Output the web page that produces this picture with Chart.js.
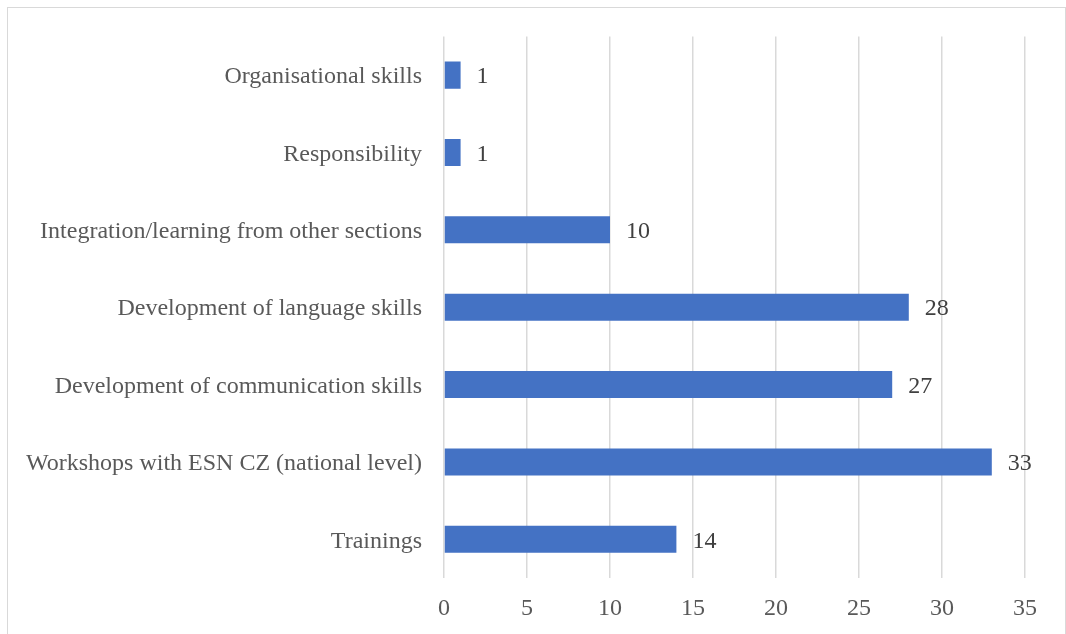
<!DOCTYPE html>
<html>
<head>
<meta charset="utf-8">
<script src="https://cdn.jsdelivr.net/npm/chart.js@4/dist/chart.umd.min.js"></script>
<style>
  body { margin: 0; background: #fff; }
  #wrap { position: relative; width: 1066px; height: 634px; }
  #frame { position: absolute; left: 7px; top: 7px; width: 1059px; height: 640px; border: 1.5px solid #d9d9d9; box-sizing: border-box; }
  canvas { position: absolute; left: 0; top: 0; }
</style>
</head>
<body>
<div id="wrap">
  <div id="frame"></div>
  <canvas id="myChart" width="1066" height="634"></canvas>
</div>
<script>
var categories = [
  "Organisational skills",
  "Responsibility",
  "Integration/learning from other sections",
  "Development of language skills",
  "Development of communication skills",
  "Workshops with ESN CZ (national level)",
  "Trainings"
];
var counts = [1, 1, 10, 28, 27, 33, 14];
var tickStep = 5;
var axisMax = 35;

const fontFamily = "'Liberation Serif', 'Times New Roman', serif";

// numbers to the right of each bar
const valueLabels = {
  id: "valueLabels",
  afterDatasetsDraw(chart) {
    const ctx = chart.ctx;
    const meta = chart.getDatasetMeta(0);
    ctx.save();
    ctx.font = "24px " + fontFamily;
    ctx.fillStyle = "#404040";
    ctx.textAlign = "left";
    ctx.textBaseline = "middle";
    meta.data.forEach(function (bar, i) {
      ctx.fillText(String(counts[i]), bar.x + 16, bar.y + 2);
    });
    ctx.restore();
  }
};

const config = {
  type: "bar",
  data: {
    labels: categories,
    datasets: [
      {
        data: counts,
        backgroundColor: "#4472c4",
        borderWidth: 0,
        barPercentage: 0.35,
        categoryPercentage: 1
      }
    ]
  },
  options: {
    indexAxis: "y",
    responsive: false,
    animation: false,
    layout: { padding: { top: 36, right: 41, left: 0, bottom: 0 } },
    plugins: {
      legend: { display: false },
      tooltip: { enabled: false }
    },
    scales: {
      x: {
        min: 0,
        max: axisMax,
        ticks: {
          stepSize: tickStep,
          padding: 16,
          color: "#595959",
          font: { family: fontFamily, size: 24 }
        },
        grid: { color: "#d9d9d9", lineWidth: 1.5, drawTicks: false },
        border: { display: false },
        afterFit: function (scale) { scale.height = 56; }
      },
      y: {
        ticks: {
          padding: 22,
          labelOffset: 2,
          color: "#595959",
          font: { family: fontFamily, size: 24 }
        },
        grid: { display: false, drawTicks: false },
        border: { display: false },
        afterFit: function (scale) { scale.width = 444; }
      }
    }
  },
  plugins: [valueLabels]
};

new Chart(document.getElementById("myChart"), config);
</script>
</body>
</html>
